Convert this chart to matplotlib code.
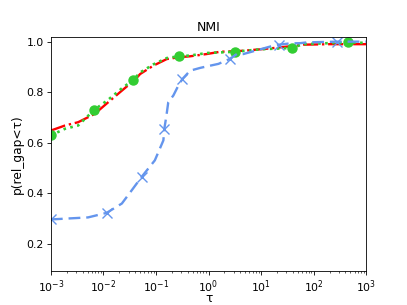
import numpy as np
import matplotlib
matplotlib.use("Agg")
import matplotlib.pyplot as plt

# performance profile curves
blue_tau = [1e-3, 0.0051, 0.0115, 0.0224, 0.0347, 0.053, 0.095, 0.138, 0.144, 0.158,
            0.171, 0.214, 0.266, 0.317, 0.445, 0.69, 0.925, 1.54, 2.5, 3.44, 4.6,
            17, 22, 35, 55, 74, 275, 1000]
blue_p = [0.296, 0.304, 0.322, 0.359, 0.412, 0.464, 0.53, 0.609, 0.655, 0.708,
          0.76, 0.787, 0.826, 0.852, 0.885, 0.896, 0.902, 0.912, 0.931, 0.951, 0.951,
          0.984, 0.988, 0.993, 0.994, 0.997, 1.0, 1.0]
blue_mark_tau = [1e-3, 0.0115, 0.053, 0.144, 0.317, 2.5, 22, 275]
blue_mark_p = [0.296, 0.322, 0.464, 0.655, 0.852, 0.931, 0.988, 1.0]

red_tau = [1e-3, 0.00186, 0.0033, 0.006, 0.0069, 0.0123, 0.0224, 0.04, 0.05, 0.089,
           0.16, 0.27, 0.445, 0.925, 1.66, 3.0, 4.6, 10, 20, 50, 63, 200, 1000]
red_p = [0.648, 0.668, 0.681, 0.708, 0.715, 0.76, 0.806, 0.85, 0.872, 0.905,
         0.931, 0.938, 0.942, 0.951, 0.96, 0.962, 0.964, 0.97, 0.976, 0.985, 0.988, 0.99, 0.99]

green_tau = [1e-3, 0.00186, 0.0033, 0.0067, 0.0123, 0.0224, 0.037, 0.05, 0.089, 0.16,
             0.27, 0.445, 0.925, 3.2, 10, 38, 63, 440, 1000]
green_p = [0.629, 0.655, 0.668, 0.73, 0.77, 0.815, 0.849, 0.878, 0.91, 0.935,
           0.942, 0.945, 0.955, 0.96, 0.97, 0.975, 0.99, 0.997, 0.995]
green_mark_tau = [1e-3, 0.0067, 0.037, 0.27, 3.2, 38, 440]
green_mark_p = [0.629, 0.73, 0.849, 0.942, 0.96, 0.975, 0.997]

fig, ax = plt.subplots(figsize=(4.07, 3.05), dpi=100)

ax.plot(red_tau, red_p, color="red", linestyle="-.", linewidth=1.7)
ax.plot(green_tau, green_p, color="limegreen", linestyle=":", linewidth=1.9)
ax.plot(green_mark_tau, green_mark_p, "o", color="limegreen", markersize=6.5)
ax.plot(blue_tau, blue_p, color="cornflowerblue", linestyle="--", linewidth=1.7, dashes=(5, 2.5))
ax.plot(blue_mark_tau, blue_mark_p, "x", color="cornflowerblue", markersize=7, markeredgewidth=1.0)

ax.set_xscale("log")
ax.set_xlim(1e-3, 1e3)
ax.set_ylim(0.09, 1.02)
ax.set_yticks([0.2, 0.4, 0.6, 0.8, 1.0])
ax.tick_params(labelsize=7.8, length=2.6, width=0.6, pad=2.5)
ax.tick_params(which="minor", length=1.5, width=0.45)
for s in ax.spines.values():
    s.set_linewidth(0.6)
ax.set_xlabel("τ", fontsize=8.8)
ax.xaxis.set_label_coords(0.5, -0.088)
ax.set_ylabel("p(rel_gap<τ)", fontsize=8.8, labelpad=2)
ax.set_title("NMI", fontsize=9, pad=4)

plt.savefig("out.png")
